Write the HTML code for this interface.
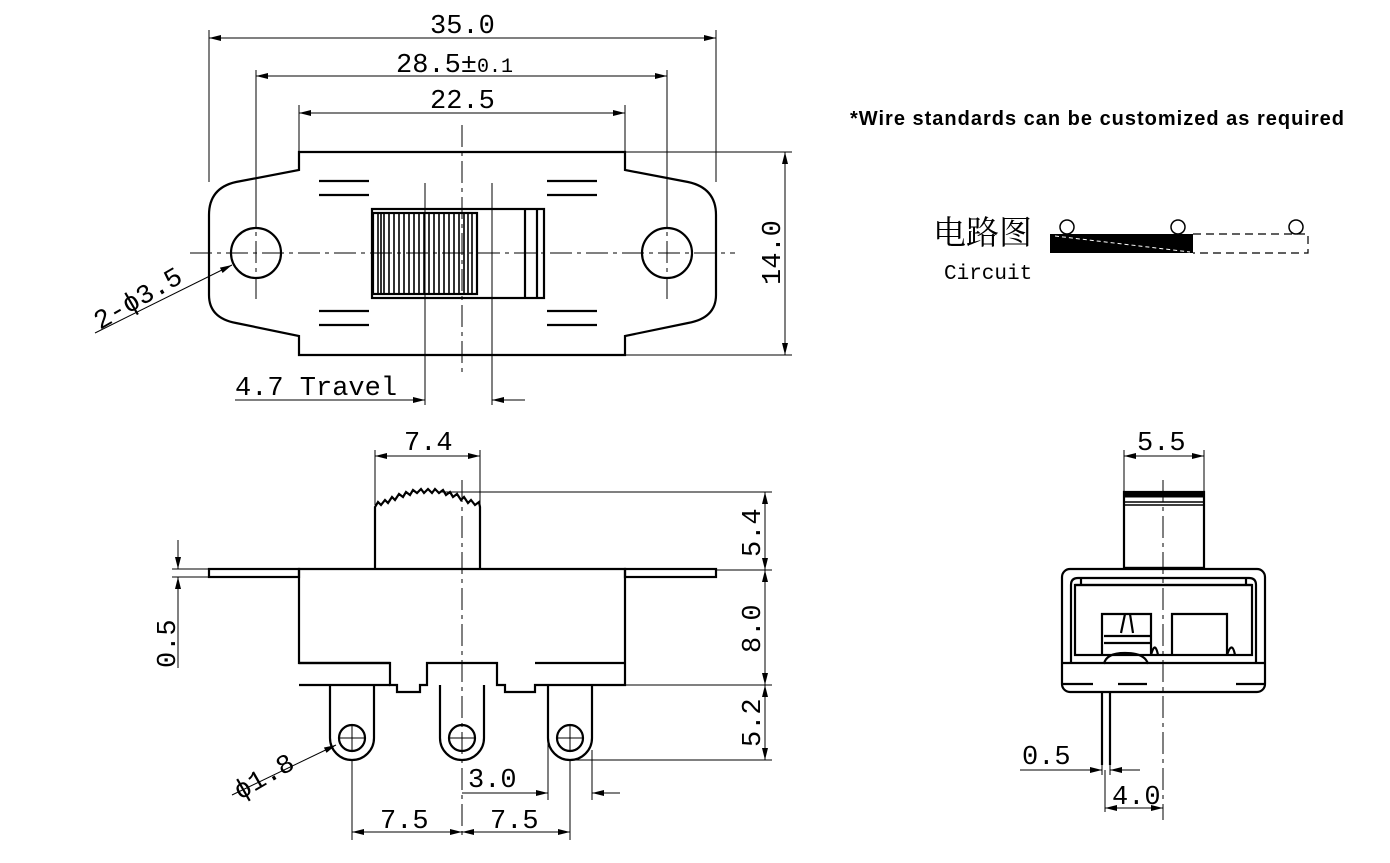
<!DOCTYPE html>
<html><head><meta charset="utf-8"><style>
html,body{margin:0;padding:0;background:#fff;}
svg{display:block;}
.t{font-family:"Liberation Mono",monospace;font-size:27px;fill:#000;}
</style></head><body>
<svg width="1390" height="863" viewBox="0 0 1390 863" xmlns="http://www.w3.org/2000/svg">
<defs>
<marker id="a" viewBox="0 0 12 6" refX="12" refY="3" markerWidth="12" markerHeight="6" orient="auto-start-reverse" markerUnits="userSpaceOnUse"><path d="M0,0 L12,3 L0,6 Z" fill="#000"/></marker>
</defs>
<g fill="none" stroke="#000">
<!-- TOP VIEW -->
<path stroke-width="2.2" d="M299,152 H625 V170 L688,182 Q716,188 716,215 V295 Q716,318 688,323 L625,336 V355 H299 V336 L236,323 Q209,318 209,295 V215 Q209,188 236,182 L299,170 Z"/>
<circle cx="256" cy="253" r="25" stroke-width="2.2"/>
<circle cx="667" cy="253" r="25" stroke-width="2.2"/>
<g stroke-width="2.2">
<path d="M319,181H369M319,195H369M547,181H597M547,195H597M319,311H369M319,325H369M547,311H597M547,325H597"/>
<rect x="372" y="209" width="172" height="89"/>
<rect x="373" y="213" width="104" height="81"/>
<path d="M525,209V298M537,209V298"/>
</g>
<path stroke-width="1.6" d="M378,213V294M381,213V294M384,213V294M389,213V294M394,213V294M399,213V294M404,213V294M409,213V294M414,213V294M419,213V294M424,213V294M429,213V294M434,213V294M439,213V294M444,213V294M449,213V294M454,213V294M459,213V294M464,213V294M468,213V294M472,213V294"/>
<g stroke-width="1" stroke-dasharray="22,5,4,5">
<path d="M190,253H735M462,125V375M256,205V300M667,205V300"/>
</g>
<path stroke-width="1" d="M425,183V405M492,183V405"/>
<!-- dims top -->
<g stroke-width="1">
<path d="M209,30V182M716,30V182M256,70V215M667,70V215M299,105V152M625,105V152"/>
<path d="M209,38H716" marker-start="url(#a)" marker-end="url(#a)"/>
<path d="M256,76H667" marker-start="url(#a)" marker-end="url(#a)"/>
<path d="M299,113H625" marker-start="url(#a)" marker-end="url(#a)"/>
<path d="M625,152H792M625,355H792"/>
<path d="M785,152V355" marker-start="url(#a)" marker-end="url(#a)"/>
<path d="M95,333L232,265" marker-end="url(#a)"/>
<path d="M235,400H425" marker-end="url(#a)"/>
<path d="M525,400H492" marker-end="url(#a)"/>
</g>
<!-- circuit -->
<rect x="1050" y="234" width="143" height="19" fill="#000" stroke="none"/>
<path stroke-width="1.2" stroke-dasharray="8,5" d="M1193,234H1308V253H1193"/>
<path stroke="#fff" stroke-width="1" stroke-dasharray="4,3" d="M1055,236L1190,252"/>
<g stroke-width="1.5" fill="#fff"><circle cx="1067" cy="227" r="7"/><circle cx="1178" cy="227" r="7"/><circle cx="1296" cy="227" r="7"/></g>

<!-- SIDE VIEW -->
<g stroke-width="2.2">
<rect x="209" y="569" width="90" height="8"/>
<rect x="625" y="569" width="91" height="8"/>
<path d="M299,569H625V685H535V692H505V685H497V663H427V685H420V692H397V685H390V663H299V569Z"/>
<path d="M299,663H390M535,663H625M299,685H390"/>
<path d="M375,569V507 L378,502 381,505 385,500 388,503 392,497 395,500 399,494 403,497 406,492 410,495 413,490 417,493 421,489 424,493 428,489 432,493 435,489 439,493 443,490 446,495 450,492 453,497 457,494 461,500 464,497 468,503 471,500 475,505 479,502 480,507 V569"/>
<path d="M330,685V738A22,22 0 0 0 374,738V685"/>
<path d="M440,685V738A22,22 0 0 0 484,738V685"/>
<path d="M548,685V738A22,22 0 0 0 592,738V685"/>
<circle cx="352" cy="738" r="13"/><circle cx="462" cy="738" r="13"/><circle cx="570" cy="738" r="13"/>
</g>
<g stroke-width="1" stroke-dasharray="22,5,4,5"><path d="M462,480V835"/></g>
<path stroke-width="1" d="M340,738H364M352,726V750M558,738H582M570,726V750M450,738H474"/>
<g stroke-width="1">
<path d="M375,450V505M480,450V505"/>
<path d="M375,456H480" marker-start="url(#a)" marker-end="url(#a)"/>
<path d="M440,492H772M716,570H772M625,685H772M570,760H772"/>
<path d="M765,492V570" marker-start="url(#a)" marker-end="url(#a)"/>
<path d="M765,570V685" marker-start="url(#a)" marker-end="url(#a)"/>
<path d="M765,685V760" marker-start="url(#a)" marker-end="url(#a)"/>
<path d="M172,569H209M172,577H209"/>
<path d="M178,540V569" marker-end="url(#a)"/>
<path d="M178,668V577" marker-end="url(#a)"/>
<path d="M232,795L336,745" marker-end="url(#a)"/>
<path d="M352,760V840M570,760V840M548,740V800M592,750V800"/>
<path d="M352,832H462" marker-start="url(#a)" marker-end="url(#a)"/>
<path d="M462,832H570" marker-start="url(#a)" marker-end="url(#a)"/>
<path d="M462,793H548" marker-end="url(#a)"/>
<path d="M620,793H592" marker-end="url(#a)"/>
</g>

<!-- RIGHT VIEW -->
<g stroke-width="2.2">
<rect x="1124" y="492" width="80" height="76"/>
<path d="M1124,568H1204"/>
<rect x="1062" y="569" width="203" height="123" rx="8"/>
<path d="M1071,663V585Q1071,578 1078,578H1249Q1256,578 1256,585V663"/>
<path d="M1081,578V585M1246,578V585M1075,585H1252M1062,663H1265M1062,684H1093M1118,684H1147M1236,684H1265"/>
<rect x="1075" y="585" width="177" height="70"/>
<path d="M1102,655V614H1151V655M1151,655Q1155,640 1158,655M1172,655V614H1227V655Q1232,640 1235,655"/>
<path d="M1104,636H1150M1104,643H1150M1125,614L1121,633M1130,614L1133,633M1104,664Q1106,653 1125,653Q1145,653 1148,664"/>
<path d="M1102,692V765M1110,692V765"/>
</g>
<path stroke-width="5" d="M1124,495H1204"/>
<path stroke-width="1.5" d="M1124,502H1204M1124,505H1204"/>
<g stroke-width="1" stroke-dasharray="22,5,4,5"><path d="M1163,480V820"/></g>
<g stroke-width="1">
<path d="M1124,450V492M1204,450V492"/>
<path d="M1124,456H1204" marker-start="url(#a)" marker-end="url(#a)"/>
<path d="M1102,765V775M1110,765V775M1105,770V812"/>
<path d="M1020,770H1102" marker-end="url(#a)"/>
<path d="M1140,770H1110" marker-end="url(#a)"/>
<path d="M1105,808H1163" marker-start="url(#a)" marker-end="url(#a)"/>
</g>
</g>
<!-- TEXT -->
<text class="t" x="430" y="33">35.0</text>
<text class="t" x="396" y="72">28.5±<tspan font-size="20">0.1</tspan></text>
<text class="t" x="430" y="108">22.5</text>
<text class="t" transform="translate(780,285) rotate(-90)">14.0</text>
<text class="t" transform="translate(100,330) rotate(-30)">2-ϕ3.5</text>
<text class="t" x="235" y="395" font-family="Liberation Serif">4.7 Travel</text>
<text x="850" y="125" font-family="Liberation Sans,sans-serif" font-weight="bold" font-size="20" letter-spacing="1">*Wire standards can be customized as required</text>
<text x="933" y="244" font-family="'Noto Serif CJK SC','Noto Sans CJK SC',serif" font-size="33">电路图</text>
<text x="944" y="279" font-family="Liberation Mono,monospace" font-size="21">Circuit</text>
<text class="t" x="404" y="450">7.4</text>
<text class="t" transform="translate(760,557) rotate(-90)">5.4</text>
<text class="t" transform="translate(760,653) rotate(-90)">8.0</text>
<text class="t" transform="translate(760,747) rotate(-90)">5.2</text>
<text class="t" transform="translate(175,668) rotate(-90)">0.5</text>
<text class="t" transform="translate(240,800) rotate(-30)">ϕ1.8</text>
<text class="t" x="468" y="787">3.0</text>
<text class="t" x="380" y="828">7.5</text>
<text class="t" x="490" y="828">7.5</text>
<text class="t" x="1137" y="450">5.5</text>
<text class="t" x="1022" y="764">0.5</text>
<text class="t" x="1112" y="804">4.0</text>
</svg>
</body></html>
